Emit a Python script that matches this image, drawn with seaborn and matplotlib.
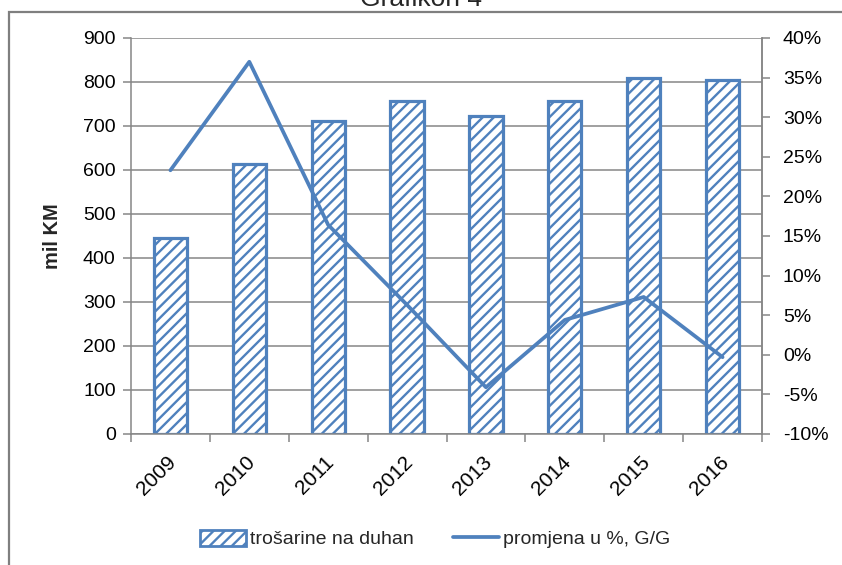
import numpy as np
import pandas as pd
import matplotlib
matplotlib.use("Agg")
import matplotlib.pyplot as plt
import matplotlib.transforms as mtransforms
from matplotlib.patches import Rectangle
from matplotlib.lines import Line2D
import seaborn as sns

# values
years = ["2009", "2010", "2011", "2012", "2013", "2014", "2015", "2016"]
excise_tobacco = [446, 614, 712, 757, 722, 757, 810, 805]          # mil KM
change_pct = [23.3, 37.0, 16.4, 6.3, -4.1, 4.4, 7.3, -0.3]         # %, G/G

left_ticks = [0, 100, 200, 300, 400, 500, 600, 700, 800, 900]
right_ticks = [-10, -5, 0, 5, 10, 15, 20, 25, 30, 35, 40]

blue = "#4F81BD"
grey = "#868686"
fs = 14

sns.set_theme(style="white")
plt.rcParams["font.family"] = ["Liberation Sans", "DejaVu Sans"]
plt.rcParams["hatch.linewidth"] = 1.7
plt.rcParams["hatch.color"] = blue

df = pd.DataFrame({"year": years, "value": excise_tobacco, "pct": change_pct})

fig = plt.figure(figsize=(8.42, 5.65), dpi=100)
ax = fig.add_axes([131 / 842, 1 - 434 / 565, 631 / 842, 396 / 565])

sns.barplot(data=df, x="year", y="value", ax=ax, color="white", width=0.42,
            edgecolor=blue, linewidth=2.3, hatch="///", saturation=1)
for p in ax.patches:
    p.set_facecolor("white")

ax.set_ylim(0, 900)
ax.set_yticks(left_ticks)
ax.set_xlim(-0.5, len(years) - 0.5)
ax.yaxis.grid(True, color=grey, linewidth=1.1)
ax.set_axisbelow(True)
ax.set_xlabel("")
ax.set_ylabel("mil KM", fontsize=fs + 0.5, fontweight="bold")
ax.yaxis.set_label_coords(-0.109, 0.5)

ax.spines["top"].set_visible(False)
for side in ["left", "bottom", "right"]:
    ax.spines[side].set_color(grey)
    ax.spines[side].set_linewidth(1.1)

ax.tick_params(axis="y", which="both", left=True, length=6, color=grey,
               width=1.1, labelsize=fs, labelcolor="#000000", pad=5)
# category ticks sit between the bars, as in the original
ax.set_xticks(np.arange(len(years)))
ax.set_xticks(np.arange(len(years) + 1) - 0.5, minor=True)
ax.tick_params(axis="x", which="major", length=0, labelsize=fs + 1, pad=18,
               labelcolor="#000000")
ax.tick_params(axis="x", which="minor", bottom=True, length=6, color=grey, width=1.1)
ax.set_xticklabels(years, rotation=45, ha="right", va="center",
                   rotation_mode="anchor")
shift = mtransforms.ScaledTranslation(3 / 100, 0, fig.dpi_scale_trans)
for lbl in ax.get_xticklabels():
    lbl.set_transform(lbl.get_transform() + shift)

ax2 = ax.twinx()
sns.pointplot(data=df, x="year", y="pct", ax=ax2, color=blue, markers="",
              linewidth=2.7)
ax2.set_ylim(-10, 40)
ax2.set_yticks(right_ticks)
ax2.set_yticklabels([f"{t}%" for t in right_ticks])
ax2.set_ylabel("")
ax2.set_xlabel("")
ax2.set_xlim(-0.5, len(years) - 0.5)
for side in ["top", "left", "bottom"]:
    ax2.spines[side].set_visible(False)
ax2.spines["right"].set_color(grey)
ax2.spines["right"].set_linewidth(1.1)
ax2.tick_params(axis="y", right=True, length=6, color=grey, width=1.1,
                labelsize=fs, labelcolor="#000000", pad=9)

# title, partly cut by the top edge as in the screenshot
fig.text(0.5, 1 - 6 / 565, "Grafikon 4", ha="center", va="baseline", fontsize=19)

# outer chart frame
fig.patches.append(Rectangle((9 / 842, -0.01), 1.0, 1 - 12 / 565 + 0.01,
                             transform=fig.transFigure, fill=False,
                             edgecolor="#7F7F7F", linewidth=1.6))

handles = [Rectangle((0, 0), 1, 1, facecolor="white", edgecolor=blue,
                     linewidth=2.0, hatch="///"),
           Line2D([0], [0], color=blue, linewidth=2.7)]
fig.legend(handles, ["trošarine na duhan", "promjena u %, G/G"],
           loc="center", bbox_to_anchor=(435 / 842, 1 - 539 / 565), ncol=2,
           frameon=False, fontsize=fs, handlelength=2.4, handleheight=0.9,
           handletextpad=0.2, columnspacing=2.0)

fig.savefig("out.png", dpi=100)
